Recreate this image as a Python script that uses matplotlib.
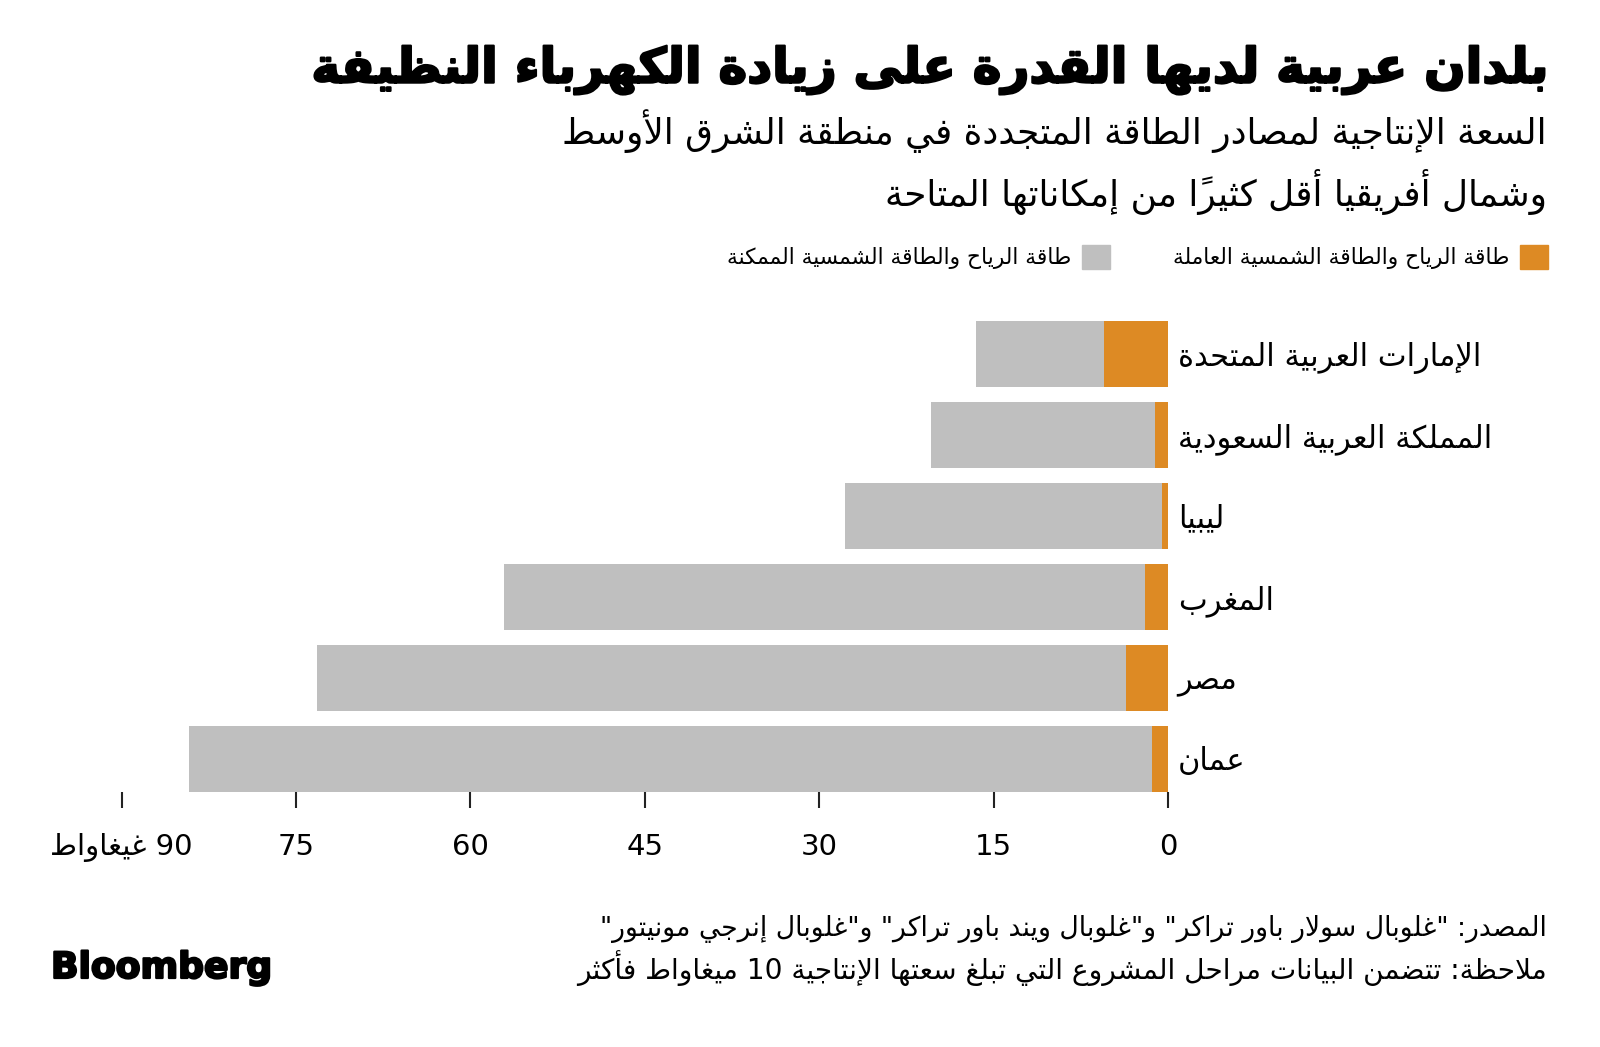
import numpy as np
import matplotlib
matplotlib.use("Agg")
import matplotlib.pyplot as plt
import matplotlib.patheffects as pe
from matplotlib.patches import Patch

# data (gigawatts)
countries = ["الإمارات العربية المتحدة", "المملكة العربية السعودية", "ليبيا", "المغرب", "مصر", "عمان"]
possible = [16.5, 20.4, 27.8, 57.1, 73.2, 84.2]
operating = [5.5, 1.1, 0.5, 2.0, 3.6, 1.4]
x_ticks = [0, 15, 30, 45, 60, 75, 90]
x_tick_labels = ["0", "15", "30", "45", "60", "75", "90 غيغاواط"]

title = "بلدان عربية لديها القدرة على زيادة الكهرباء النظيفة"
subtitle = ["السعة الإنتاجية لمصادر الطاقة المتجددة في منطقة الشرق الأوسط",
            "وشمال أفريقيا أقل كثيراً من إمكاناتها المتاحة"]
legend_labels = ["طاقة الرياح والطاقة الشمسية العاملة", "طاقة الرياح والطاقة الشمسية الممكنة"]
source = ['المصدر: "غلوبال سولار باور تراكر" و"غلوبال ويند باور تراكر" و"غلوبال إنرجي مونيتور"',
          "ملاحظة: تتضمن البيانات مراحل المشروع التي تبلغ سعتها الإنتاجية 10 ميغاواط فأكثر"]

ORANGE = "#DD8A24"
GRAY = "#BFBFBF"

# matplotlib has no arabic shaping: map letters to presentation forms and reorder for display
FORMS = {
    '\u0621': '\uFE80',
    '\u0622': '\uFE81\uFE82', '\u0623': '\uFE83\uFE84', '\u0624': '\uFE85\uFE86',
    '\u0625': '\uFE87\uFE88', '\u0626': '\uFE89\uFE8A\uFE8B\uFE8C', '\u0627': '\uFE8D\uFE8E',
    '\u0628': '\uFE8F\uFE90\uFE91\uFE92', '\u0629': '\uFE93\uFE94',
    '\u062A': '\uFE95\uFE96\uFE97\uFE98', '\u062B': '\uFE99\uFE9A\uFE9B\uFE9C',
    '\u062C': '\uFE9D\uFE9E\uFE9F\uFEA0', '\u062D': '\uFEA1\uFEA2\uFEA3\uFEA4',
    '\u062E': '\uFEA5\uFEA6\uFEA7\uFEA8', '\u062F': '\uFEA9\uFEAA', '\u0630': '\uFEAB\uFEAC',
    '\u0631': '\uFEAD\uFEAE', '\u0632': '\uFEAF\uFEB0',
    '\u0633': '\uFEB1\uFEB2\uFEB3\uFEB4', '\u0634': '\uFEB5\uFEB6\uFEB7\uFEB8',
    '\u0635': '\uFEB9\uFEBA\uFEBB\uFEBC', '\u0636': '\uFEBD\uFEBE\uFEBF\uFEC0',
    '\u0637': '\uFEC1\uFEC2\uFEC3\uFEC4', '\u0638': '\uFEC5\uFEC6\uFEC7\uFEC8',
    '\u0639': '\uFEC9\uFECA\uFECB\uFECC', '\u063A': '\uFECD\uFECE\uFECF\uFED0',
    '\u0641': '\uFED1\uFED2\uFED3\uFED4', '\u0642': '\uFED5\uFED6\uFED7\uFED8',
    '\u0643': '\uFED9\uFEDA\uFEDB\uFEDC', '\u0644': '\uFEDD\uFEDE\uFEDF\uFEE0',
    '\u0645': '\uFEE1\uFEE2\uFEE3\uFEE4', '\u0646': '\uFEE5\uFEE6\uFEE7\uFEE8',
    '\u0647': '\uFEE9\uFEEA\uFEEB\uFEEC', '\u0648': '\uFEED\uFEEE',
    '\u0649': '\uFEEF\uFEF0', '\u064A': '\uFEF1\uFEF2\uFEF3\uFEF4',
}
LAM_ALEF = {'\u0622': '\uFEF5\uFEF6', '\u0623': '\uFEF7\uFEF8',
            '\u0625': '\uFEF9\uFEFA', '\u0627': '\uFEFB\uFEFC'}

def is_mark(c):
    return '\u064B' <= c <= '\u0652'

def ar(txt):
    ch = list(txt)
    n = len(ch)
    out = []
    prev_joins = False
    i = 0
    while i < n:
        c = ch[i]
        if is_mark(c):
            if out: out[-1] += c
            else: out.append(c)
            i += 1
            continue
        if c not in FORMS:
            out.append(c)
            prev_joins = False
            i += 1
            continue
        if c == '\u0644' and i + 1 < n and ch[i+1] in LAM_ALEF:
            out.append(LAM_ALEF[ch[i+1]][1 if prev_joins else 0])
            prev_joins = False
            i += 2
            continue
        j = i + 1
        while j < n and is_mark(ch[j]): j += 1
        nxt = ch[j] if j < n else ''
        f = FORMS[c]
        jp = prev_joins and len(f) > 1
        jn = len(f) == 4 and nxt in FORMS and len(FORMS[nxt]) > 1
        idx = 3 if (jp and jn) else 1 if jp else 2 if jn else 0
        out.append(f[idx])
        prev_joins = len(f) == 4
        i += 1
    runs = []
    for cl in out:
        t = cl[0].isdigit() or (cl[0].isascii() and cl[0].isalpha())
        if runs and runs[-1][0] == t: runs[-1][1].append(cl)
        else: runs.append([t, [cl]])
    vis = ''
    for t, cls in reversed(runs):
        vis += ''.join(cls if t else reversed(cls))
    return vis

plt.rcParams['font.family'] = ['DejaVu Sans']

fig = plt.figure(figsize=(16, 10.47), dpi=100)
ax = fig.add_axes([0.07606, 0.24384, 0.65394, 0.45683])
y = np.arange(len(countries))
ax.barh(y, possible, height=0.81, color=GRAY)
ax.barh(y, operating, height=0.81, color=ORANGE)
ax.set_xlim(90, 0)
ax.set_ylim(5.405, -0.5)
for s in ax.spines.values(): s.set_visible(False)

ax.set_yticks(y)
ax.set_yticklabels([ar(c) for c in countries])
ax.yaxis.tick_right()
ax.tick_params(axis='y', length=0, pad=7, labelsize=22)
ax.set_xticks(x_ticks)
ax.set_xticklabels([ar(t) for t in x_tick_labels])
ax.tick_params(axis='x', length=11.5, width=1.5, color='#222222', pad=18, labelsize=21)

h = [Patch(color=GRAY), Patch(color=ORANGE)]
fig.legend(h, [ar(legend_labels[1]), ar(legend_labels[0])], ncol=2, markerfirst=False,
           frameon=False, fontsize=15.7, loc='center right', bbox_to_anchor=(1548/1600, 1-257/1047),
           borderpad=0, borderaxespad=0, handlelength=1.3, handleheight=1.3,
           handletextpad=0.46, columnspacing=2.9)

heavy = [pe.withStroke(linewidth=1.6, foreground='black')]
fig.text(1547/1600, 1-70/1047, ar(title), ha='right', va='center', fontsize=35,
         fontweight='bold', path_effects=heavy)
fig.text(1547/1600, 1-131/1047, ar(subtitle[0]), ha='right', va='center', fontsize=25.8)
fig.text(1547/1600, 1-192/1047, ar(subtitle[1]), ha='right', va='center', fontsize=25.8)
fig.text(1547/1600, 1-929/1047, ar(source[0]), ha='right', va='center', fontsize=19.2)
fig.text(1547/1600, 1-968/1047, ar(source[1]), ha='right', va='center', fontsize=20.2)
fig.text(51/1600, 1-968/1047, "Bloomberg", ha='left', va='center', fontsize=26,
         fontweight='bold', path_effects=heavy)

fig.savefig("out.png", dpi=100)
